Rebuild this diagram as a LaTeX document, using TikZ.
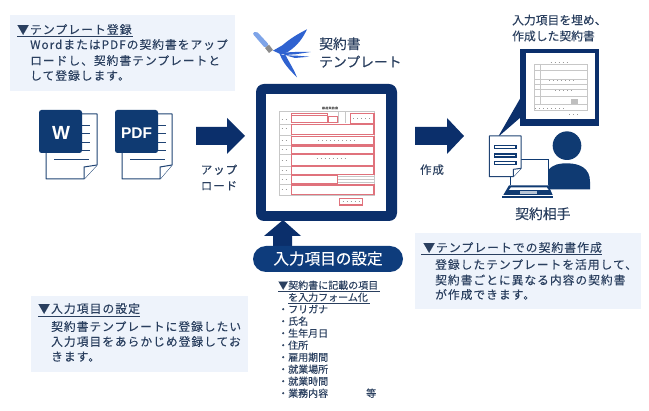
\documentclass[tikz,border=0pt]{standalone}
\usepackage{fontspec}
\setmainfont{Liberation Sans}
\newfontfamily\jp[FakeBold=0.18]{Noto Sans CJK JP}
\newfontfamily\jpwide[LetterSpace=9,FakeBold=0.18]{Noto Sans CJK JP}
\definecolor{navy}{HTML}{0B2F6B}
\definecolor{pillblue}{HTML}{0E3C7C}
\definecolor{iconblue}{HTML}{0F3A72}
\definecolor{panel}{HTML}{EEF3FB}
\definecolor{inktext}{HTML}{2A3F5F}
\definecolor{redline}{HTML}{E0727C}
\definecolor{brush}{HTML}{2F62D0}
\definecolor{brushlight}{HTML}{7EA4E8}
\tikzset{
  x=1pt,y=-1pt,
  panelbox/.style={fill=panel,draw=none},
  bodyline/.style={anchor=base west,inner sep=0,text=inktext,font=\jpwide\fontsize{11.7}{12}\selectfont},
  headline/.style={anchor=base west,inner sep=0,text=inktext,font=\jpwide\fontsize{11.8}{12}\selectfont},
  listline/.style={anchor=base west,inner sep=0,text=inktext,font=\jp\fontsize{10}{11}\selectfont},
  caption/.style={anchor=base,inner sep=0,text=inktext,font=\jpwide\fontsize{11.4}{12}\selectfont},
  bigcaption/.style={anchor=base west,inner sep=0,text=inktext,font=\jp\fontsize{13.8}{15}\selectfont},
  rule/.style={draw=inktext,line width=0.7pt},
  blockarrow/.style={fill=navy,draw=none},
  pageoutline/.style={draw=iconblue!85!gray,line width=1pt,fill=white,line join=round},
  tick/.style={draw=iconblue!85!gray,line width=0.8pt},
  fieldbox/.style={draw=redline,line width=1.1pt},
  formgrid/.style={draw=black!22,line width=0.35pt},
  formmark/.style={draw=black!40,line width=0.7pt,dash pattern=on 1pt off 3pt},
}
\begin{document}
\begin{tikzpicture}
\useasboundingbox (0,0) rectangle (649,411);
\fill[white] (0,0) rectangle (649,411);

% Registration panel
\fill[panelbox] (10,15) rectangle (235,91);
\node[headline] (regHead) at (17,34) {▼テンプレート登録};
\draw[rule] (regHead.base west)++(0,2.5) coordinate (regA) -- ++(116,0);
\node[bodyline] (regL1) at (30,49) {WordまたはPDFの契約書をアップ};
\node[bodyline] (regL2) at (30,65) {ロードし、契約書テンプレートと};
\node[bodyline] (regL3) at (30,80) {して登録します。};

% Word file icon
\draw[pageoutline] (46,114) -- (97,114) -- (97,165) -- (84,179) -- (46,179) -- cycle;
\draw[pageoutline] (84,179) -- (84,167) -- (97,165);
\foreach \yy in {125,133,142,150} \draw[tick] (82,\yy) -- (90,\yy);
\draw[tick] (54,159) -- (89,159);
\fill[iconblue,rounded corners=2.5pt] (39,110) rectangle (82,153);
\node[inner sep=0,text=white,font=\bfseries\fontsize{19}{20}\selectfont] (wordMark) at (61,133) {W};

% PDF file icon
\draw[pageoutline] (122,114) -- (172,114) -- (172,165) -- (160,179) -- (122,179) -- cycle;
\draw[pageoutline] (160,179) -- (160,167) -- (172,165);
\foreach \yy in {125,133,142,150} \draw[tick] (158,\yy) -- (166,\yy);
\draw[tick] (130,159) -- (165,159);
\fill[iconblue,rounded corners=2.5pt] (115,110) rectangle (158,153);
\node[inner sep=0,text=white,font=\bfseries\fontsize{15.5}{16}\selectfont] (pdfMark) at (136.5,133) {PDF};

% Upload arrow
\fill[blockarrow] (196,127) -- (227,127) -- (227,118) -- (245,136) -- (227,154) -- (227,145) -- (196,145) -- cycle;
\node[caption] (upA) at (219,174) {アップ};
\node[caption] (upB) at (219,190) {ロード};

% Brush logo: pen handle, nib and swallow-shaped strokes
\begin{scope}[shift={(245,22)},scale=1/3]
  \fill[brushlight,rounded corners=2pt] (22,34) -- (34,27) -- (72,68) -- (60,78) -- cycle;
  \fill[black!45] (60,78) -- (72,68) -- (84,84) -- (72,93) -- cycle;
  \fill[brush] (84,86) -- (112,70) .. controls (135,50) and (160,35) .. (186,22) .. controls (175,45) and (160,70) .. (128,90) -- (108,97) -- cycle;
  \fill[brush] (108,92) -- (150,90) -- (197,90) -- (150,97) -- (120,99) -- cycle;
  \fill[brush] (122,100) -- (155,101) -- (193,104) -- (150,108) -- cycle;
  \fill[brush] (104,96) -- (122,100) .. controls (135,125) and (148,145) .. (156,166) .. controls (135,145) and (115,125) .. cycle;
\end{scope}
\node[bigcaption] (tplA) at (319,49) {契約書};
\node[bigcaption] (tplB) at (319,67) {テンプレート};

% Template frame with the form inside
\fill[navy,rounded corners=8pt] (256,84) rectangle (397,221);
\fill[white] (266,94) rectangle (386,211);
\begin{scope}[shift={(240,20)},scale=1/3]
  \draw[formgrid] (118,275) rectangle (402,525);
  \foreach \yy in {312,346,376,403,438,464,493} \draw[formgrid] (118,\yy) -- (155,\yy);
  \draw[formgrid] (295,275) -- (295,310) (315,275) -- (315,310);
  \node[inner sep=0,text=black!60,font=\jp\fontsize{2.8}{3}\selectfont] (formTitle) at (270,264) {雇\,用\,契\,約\,書};
  \foreach \a/\b/\c/\d in {155/280/262/287,155/287/262/308,265/290/292/308,332/280/402/310,155/314/402/344,155/350/402/375,155/378/402/402,155/404/402/437,155/440/402/463,155/466/292/492,155/495/402/523,299/535/367/555}
    \draw[fieldbox] (\a,\b) rectangle (\c,\d);
  \draw[formmark] (340,295) -- (395,295);
  \draw[formmark] (235,362) -- (345,362);
  \draw[formmark] (230,416) -- (325,416);
  \draw[formmark] (308,545) -- (358,545);
  \draw[formmark] (125,298) -- (148,298) (125,326) -- (148,326) (125,362) -- (148,362) (125,388) -- (148,388) (125,420) -- (148,420) (125,452) -- (148,452) (125,479) -- (148,479) (125,508) -- (148,508);
  \draw[formgrid] (295,470) -- (402,470) (295,478) -- (402,478) (295,486) -- (402,486);
\end{scope}

% Create arrow
\fill[blockarrow] (415,127) -- (447,127) -- (447,118) -- (464,136) -- (447,154) -- (447,145) -- (415,145) -- cycle;
\node[caption] (makeLbl) at (432,174) {作成};

% Completed contract callout
\node[anchor=base west,inner sep=0,text=inktext,font=\jp\fontsize{11.8}{12}\selectfont] (doneA) at (512,24.5) {入力項目を埋め、};
\node[anchor=base west,inner sep=0,text=inktext,font=\jp\fontsize{11.8}{12}\selectfont] (doneB) at (512,40.5) {作成した契約書};
\fill[navy] (498,137) -- (521,97) -- (521,117) -- cycle;
\fill[navy] (520,49) rectangle (599,126);
\fill[white] (526,53) rectangle (595,119);
\begin{scope}[shift={(410,0)},scale=1/3]
  \draw[formgrid] (372,192) rectangle (533,330);
  \foreach \yy in {212,238,253,268,290,312} \draw[formgrid] (372,\yy) -- (533,\yy);
  \draw[formgrid] (392,192) -- (392,312);
  \draw[formmark] (422,186) -- (482,186);
  \draw[formmark] (418,241) -- (500,241);
  \draw[formmark] (435,272) -- (490,272);
  \draw[formmark] (478,342) -- (510,342);
  \draw[formmark] (376,326) -- (470,326);
  \fill[black!25] (482,298) rectangle (503,312);
\end{scope}

% Counterparty: person at a laptop with a document
\begin{scope}[shift={(410,0)},scale=1/3]
  \fill[iconblue] (471,437) circle (43);
  \fill[iconblue] (415,568) -- (415,510) .. controls (430,492) and (450,490) .. (471,490) .. controls (510,490) and (540,505) .. (540,545) -- (540,568) -- cycle;
  \fill[white] (300,478) rectangle (415,556);
  \draw[iconblue,line width=1pt] (300,556) -- (300,478) -- (415,478) -- (415,556);
  \fill[iconblue] (297,556) -- (415,556) -- (428,585) -- (280,585) -- cycle;
  \fill[white] (303,562) -- (410,562) -- (416,570) -- (297,570) -- cycle;
  \fill[white!70!iconblue] (330,574) rectangle (380,583);
  \fill[iconblue] (277,587) rectangle (428,594);
  \draw[pageoutline] (238,408) -- (333,408) -- (333,505) -- (310,530) -- (238,530) -- cycle;
  \draw[pageoutline] (310,530) -- (310,508) -- (333,505);
  \foreach \yy in {437,462,485} \draw[iconblue,line width=1.2pt] (253,\yy) rectangle (318,\yy+9);
\end{scope}
\node[bigcaption] (partyLbl) at (515,219) {契約相手};

% Input field settings arrow and pill
\fill[navy] (283,220) -- (301,236) -- (292,236) -- (292,250) -- (273,250) -- (273,236) -- (264,236) -- cycle;
\fill[pillblue,rounded corners=13pt] (253,246) rectangle (403,272);
\node[inner sep=0,text=white,font=\jp\fontsize{15.6}{16}\selectfont] (pillLbl) at (328,258.5) {入力項目の設定};

% Field list
\node[listline] (listA) at (278,289) {▼契約書に記載の項目};
\draw[rule] (278,291.5) coordinate (listUa) -- (380,291.5);
\node[listline] (listB) at (288,301) {を入力フォーム化};
\draw[rule] (288,303.5) coordinate (listUb) -- (370,303.5);
\node[listline] (it1) at (278,313) {・フリガナ};
\node[listline] (it2) at (278,325) {・氏名};
\node[listline] (it3) at (278,337) {・生年月日};
\node[listline] (it4) at (278,349) {・住所};
\node[listline] (it5) at (278,361) {・雇用期間};
\node[listline] (it6) at (278,373) {・就業場所};
\node[listline] (it7) at (278,385) {・就業時間};
\node[listline] (it8) at (278,397) {・業務内容};
\node[listline] (itEtc) at (366,397) {等};

% Input settings panel
\fill[panelbox] (31,296) rectangle (248,372);
\node[headline] (setHead) at (38,313) {▼入力項目の設定};
\draw[rule] (38,316) coordinate (setU) -- (140,316);
\node[bodyline] (setL1) at (51,331) {契約書テンプレートに登録したい};
\node[bodyline] (setL2) at (51,346) {入力項目をあらかじめ登録してお};
\node[bodyline] (setL3) at (51,361) {きます。};

% Contract creation panel
\fill[panelbox] (415,233) rectangle (641,309);
\node[headline] (useHead) at (423,252) {▼テンプレートでの契約書作成};
\draw[rule] (421,254.5) coordinate (useU) -- (602,254.5);
\node[bodyline] (useL1) at (435,269) {登録したテンプレートを活用して、};
\node[bodyline] (useL2) at (435,284.5) {契約書ごとに異なる内容の契約書};
\node[bodyline] (useL3) at (435,299) {が作成できます。};
\end{tikzpicture}
\end{document}
